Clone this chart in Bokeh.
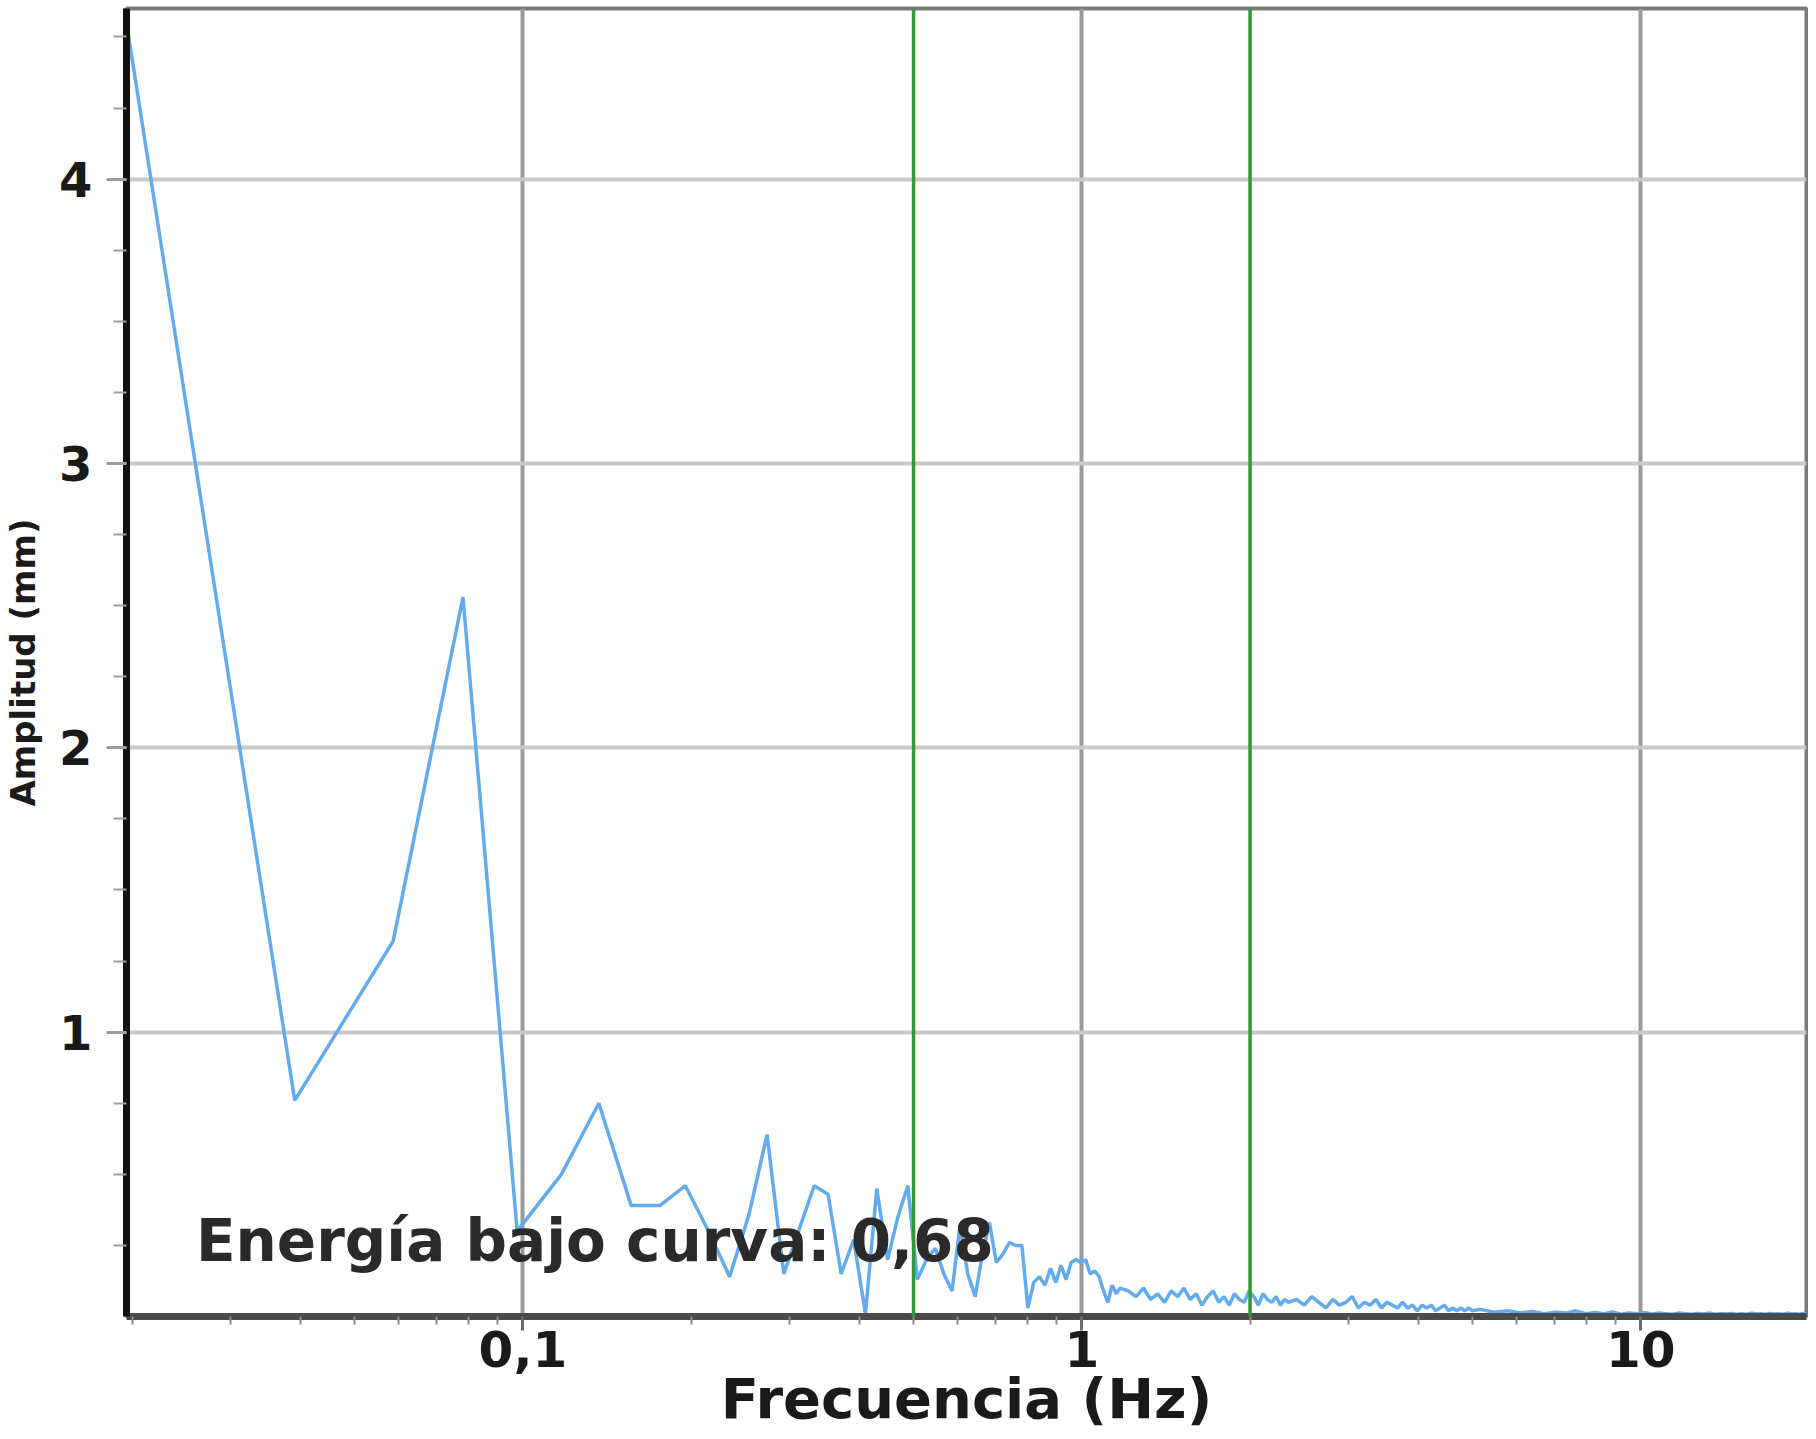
from bokeh.plotting import figure
from bokeh.models import Range1d, FixedTicker, CustomJSTickFormatter, Span, Label
from bokeh.embed import file_html
from bokeh.resources import INLINE

# ---------------- data ----------------
df_hz = 0.01953125  # frequency resolution (Hz per bin)

bins_low = list(range(1, 61))
amp_low = [4.55, 0.76, 1.32, 2.53, 0.30, 0.50, 0.75, 0.39, 0.39, 0.46,
           0.30, 0.14, 0.36, 0.64, 0.15, 0.31, 0.46, 0.43, 0.15, 0.27,
           0.01, 0.45, 0.20, 0.35, 0.46, 0.13, 0.20, 0.24, 0.15, 0.09,
           0.32, 0.15, 0.07, 0.22, 0.33, 0.19, 0.22, 0.26, 0.25, 0.25,
           0.03, 0.12, 0.14, 0.11, 0.17, 0.12, 0.18, 0.13, 0.19, 0.20,
           0.19, 0.20, 0.15, 0.16, 0.14, 0.09, 0.05, 0.11, 0.08, 0.10]

bins_mid = list(range(62, 121, 2))
amp_mid = [0.09, 0.07, 0.10, 0.06, 0.08, 0.05, 0.09, 0.07, 0.10, 0.06,
           0.08, 0.04, 0.07, 0.09, 0.05, 0.07, 0.04, 0.08, 0.06, 0.05,
           0.09, 0.07, 0.04, 0.08, 0.06, 0.05, 0.07, 0.04, 0.06, 0.05]

bins_hi = list(range(124, 257, 4))
amp_hi = [0.06, 0.04, 0.07, 0.05, 0.03, 0.06, 0.04, 0.05, 0.07, 0.03,
          0.05, 0.04, 0.06, 0.03, 0.05, 0.04, 0.03, 0.05, 0.03, 0.04,
          0.02, 0.04, 0.03, 0.04, 0.02, 0.03, 0.04, 0.02, 0.03, 0.02,
          0.03, 0.02, 0.03, 0.02]

bins_top = list(range(264, 1025, 16)) + [1024]
amp_top = [0.025, 0.015, 0.02, 0.012, 0.018, 0.01, 0.015, 0.012, 0.02, 0.01,
           0.014, 0.01, 0.016, 0.008, 0.012, 0.01, 0.014, 0.008, 0.012, 0.01,
           0.008, 0.012, 0.01, 0.008, 0.011, 0.009, 0.012, 0.008, 0.01, 0.009,
           0.011, 0.008, 0.01, 0.008, 0.012, 0.009, 0.01, 0.008, 0.011, 0.009,
           0.01, 0.008, 0.012, 0.009, 0.01, 0.008, 0.011, 0.009, 0.01]

band_limits_hz = [0.5, 2.0]
energy_text = "Energía bajo curva: 0,68"

x_tick_values = [0.1, 1, 10]
x_tick_labels = ["0,1", "1", "10"]
y_tick_values = [1, 2, 3, 4]

x_label = "Frecuencia (Hz)"
y_label = "Amplitud (mm)"

# ---------------- assemble ----------------
freq = []
amp = []
for b, a in zip(bins_low + bins_mid + bins_hi + bins_top,
                amp_low + amp_mid + amp_hi + amp_top):
    freq.append(b * df_hz)
    amp.append(a)

FONT = "DejaVu Sans"

p = figure(frame_width=1680, frame_height=1308, x_axis_type="log",
           x_range=Range1d(0.01953125, 19.8), y_range=Range1d(0, 4.6),
           output_backend="svg", toolbar_location=None,
           min_border_left=125, min_border_top=8, min_border_right=2,
           min_border_bottom=0,
           background_fill_color="white", border_fill_color="white")

p.outline_line_color = "#7a7a7a"
p.outline_line_width = 4

# grid
p.xgrid.grid_line_color = "#9a9a9a"
p.xgrid.grid_line_width = 4
p.ygrid.grid_line_color = "#c9c9c9"
p.ygrid.grid_line_width = 4

# x axis
x_minor = [m * 10.0 ** e for e in (-2, -1, 0, 1) for m in range(2, 10)]
p.xaxis.ticker = FixedTicker(ticks=x_tick_values, minor_ticks=x_minor)
p.xaxis.formatter = CustomJSTickFormatter(
    args=dict(vals=x_tick_values, labs=x_tick_labels),
    code="""
    for (let i = 0; i < vals.length; i++) {
        if (Math.abs(vals[i] - tick) < 1e-9 * Math.max(1, Math.abs(vals[i]))) return labs[i];
    }
    return '';
    """)
p.xaxis.axis_line_color = "#4a4a4a"
p.xaxis.axis_line_width = 7
p.xaxis.major_tick_line_color = "#6a6a6a"
p.xaxis.major_tick_line_width = 3
p.xaxis.major_tick_out = 14
p.xaxis.major_tick_in = 0
p.xaxis.minor_tick_line_color = "#8a8a8a"
p.xaxis.minor_tick_line_width = 2
p.xaxis.minor_tick_out = 8
p.xaxis.minor_tick_in = 0
p.xaxis.major_label_text_font = FONT
p.xaxis.major_label_text_font_size = "50px"
p.xaxis.major_label_text_font_style = "bold"
p.xaxis.major_label_text_color = "#1a1a1a"
p.xaxis.major_label_standoff = 0
p.xaxis.axis_label = x_label
p.xaxis.axis_label_text_font = FONT
p.xaxis.axis_label_text_font_size = "56px"
p.xaxis.axis_label_text_font_style = "bold"
p.xaxis.axis_label_text_color = "#1a1a1a"
p.xaxis.axis_label_standoff = -4

# y axis
y_minor = [q / 4 for q in range(1, 19)]
p.yaxis.ticker = FixedTicker(ticks=y_tick_values, minor_ticks=y_minor)
p.yaxis.axis_line_color = "#111111"
p.yaxis.axis_line_width = 7
p.yaxis.major_tick_line_color = "#9a9a9a"
p.yaxis.major_tick_line_width = 3
p.yaxis.major_tick_out = 20
p.yaxis.major_tick_in = 0
p.yaxis.minor_tick_line_color = "#a0a0a0"
p.yaxis.minor_tick_line_width = 2
p.yaxis.minor_tick_out = 13
p.yaxis.minor_tick_in = 0
p.yaxis.major_label_text_font = FONT
p.yaxis.major_label_text_font_size = "48px"
p.yaxis.major_label_text_font_style = "bold"
p.yaxis.major_label_text_color = "#1a1a1a"
p.yaxis.major_label_standoff = 14
p.yaxis.axis_label = y_label
p.yaxis.axis_label_text_font = FONT
p.yaxis.axis_label_text_font_size = "34px"
p.yaxis.axis_label_text_font_style = "bold"
p.yaxis.axis_label_text_color = "#1a1a1a"
p.yaxis.axis_label_standoff = 13

# band limits
for f in band_limits_hz:
    p.add_layout(Span(location=f, dimension="height", line_color="#2f9a36",
                      line_width=3.5))

# spectrum
p.line(freq, amp, line_color="#64abeb", line_width=3.5)

# annotation inside the plot
p.add_layout(Label(x=0.026, y=0.265, text=energy_text, text_font=FONT,
                   text_font_size="58px", text_font_style="bold",
                   text_color="#2a2a2a",
                   text_baseline="alphabetic", text_align="left"))

open("out.html", "w").write(file_html(p, INLINE))
